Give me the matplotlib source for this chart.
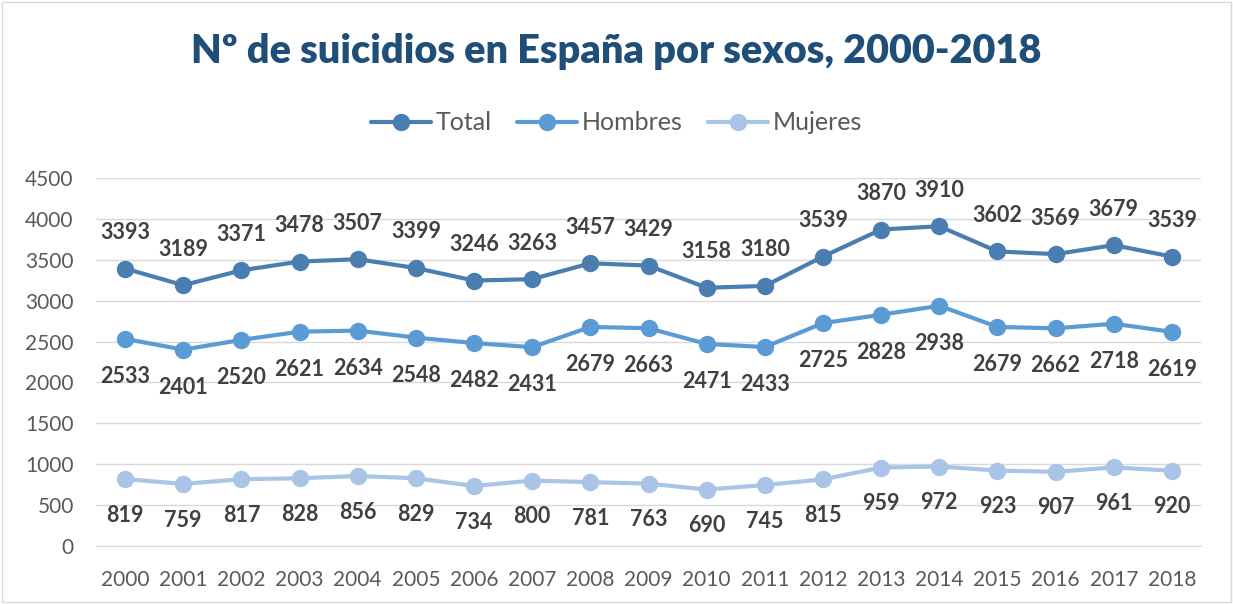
import matplotlib
matplotlib.use("Agg")
import matplotlib.pyplot as plt
from matplotlib.patches import Rectangle

years = [str(y) for y in range(2000, 2019)]
total = [3393, 3189, 3371, 3478, 3507, 3399, 3246, 3263, 3457, 3429, 3158, 3180, 3539, 3870, 3910, 3602, 3569, 3679, 3539]
hombres = [2533, 2401, 2520, 2621, 2634, 2548, 2482, 2431, 2679, 2663, 2471, 2433, 2725, 2828, 2938, 2679, 2662, 2718, 2619]
mujeres = [819, 759, 817, 828, 856, 829, 734, 800, 781, 763, 690, 745, 815, 959, 972, 923, 907, 961, 920]
yticks = [0, 500, 1000, 1500, 2000, 2500, 3000, 3500, 4000, 4500]

plt.rcParams['font.family'] = ['Lato', 'DejaVu Sans']

fig = plt.figure(figsize=(12.33, 6.04), dpi=100)
ax = fig.add_axes([96/1233, 58/604, 1105/1233, 368/604])

c_total = '#4A7EB0'
c_hom = '#5B9BD5'
c_muj = '#A9C4E6'
x = list(range(len(years)))

series = [(total, c_total, 'Total', 26), (hombres, c_hom, 'Hombres', -27), (mujeres, c_muj, 'Mujeres', -26)]
for vals, col, name, off in series:
    ax.plot(x, vals, color=col, lw=3, marker='o', ms=11.5, label=name, solid_capstyle='round')
    for xi, v in zip(x, vals):
        ax.annotate(str(v), (xi, v), xytext=(0, off), textcoords='offset points',
                    ha='center', va='center', fontsize=15.5, fontweight='bold', color='#404040')

ax.set_xlim(-0.5, len(years) - 0.5)
ax.set_ylim(0, 4500)
ax.set_yticks(yticks)
ax.set_xticks(x)
ax.set_xticklabels(years)
ax.tick_params(axis='both', length=0, labelsize=15, labelcolor='#595959')
ax.tick_params(axis='y', pad=16)
ax.tick_params(axis='x', pad=17)
ax.grid(axis='y', color='#D9D9D9', lw=1)
ax.set_axisbelow(True)
for s in ['top', 'right', 'left']:
    ax.spines[s].set_visible(False)
ax.spines['bottom'].set_color('#D9D9D9')

fig.text(0.5, 1 - 52/604, 'Nº de suicidios en España por sexos, 2000-2018', ha='center', va='center',
         fontsize=28.5, fontweight='heavy', color='#1F4E79')

leg = fig.legend(loc='center', bbox_to_anchor=(0.5, 1 - 123/604), ncol=3, frameon=False,
                 fontsize=18, handlelength=2.4, columnspacing=1.0, handletextpad=0.2)
for t in leg.get_texts():
    t.set_color('#595959')

fig.patches.append(Rectangle((2/1233, 2/604), 1 - 4/1233, 1 - 4/604, transform=fig.transFigure,
                             fill=False, edgecolor='#D9D9D9', lw=1))

fig.savefig('out.png', dpi=100)
